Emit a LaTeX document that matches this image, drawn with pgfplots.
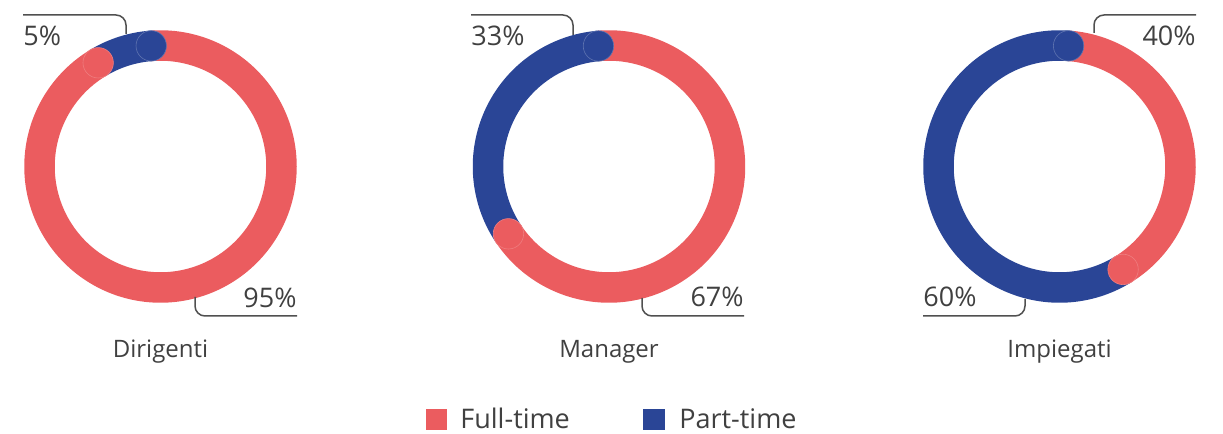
\documentclass[border=0pt]{standalone}
\usepackage{pgfplots}
\pgfplotsset{compat=1.18}
\usepackage{fontspec}
\setmainfont{Open Sans}
\definecolor{ftc}{HTML}{EB5C5F}
\definecolor{ptc}{HTML}{2A4596}
\definecolor{txt}{HTML}{404040}
\definecolor{ln}{HTML}{505050}
\pgfplotsset{donut/.style={hide axis, scale only axis, width=140pt, height=140pt,
  xmin=-140, xmax=140, ymin=-140, ymax=140, clip=false, anchor=center},
  arcft/.style={ftc, line width=15.25pt, samples=160, no markers, line cap=butt},
  arcpt/.style={ptc, line width=15.25pt, samples=160, no markers, line cap=butt},
  capft/.style={only marks, mark=*, mark size=7.6pt, mark options={fill=ftc, draw=ftc!80!white, line width=0.3pt}},
  capwpt/.style={only marks, mark=*, mark size=7.6pt, mark options={fill=ptc, draw=ptc!75!white, line width=0.3pt}}}
\begin{document}
\begin{tikzpicture}[x=0.5pt,y=0.5pt]
\useasboundingbox (0,0) rectangle (1223,434);
% Dirigenti: Full-time 95, Part-time 5 (cap angles)
\begin{axis}[donut, at={(160.5,267.5)}]
\addplot[arcft, domain=-239:94.4] ({121*cos(x)},{121*sin(x)});
\addplot[arcpt, domain=94.4:121] ({121*cos(x)},{121*sin(x)});
\addplot[capft, samples at={121}] ({121*cos(x)},{121*sin(x)});
\addplot[capwpt, samples at={94.4}] ({121*cos(x)},{121*sin(x)});
\end{axis}
% Manager: Full-time 67, Part-time 33
\begin{axis}[donut, at={(609,267.5)}]
\addplot[arcft, domain=-146.2:95] ({121*cos(x)},{121*sin(x)});
\addplot[arcpt, domain=95:213.8] ({121*cos(x)},{121*sin(x)});
\addplot[capft, samples at={213.8}] ({121*cos(x)},{121*sin(x)});
\addplot[capwpt, samples at={95}] ({121*cos(x)},{121*sin(x)});
\end{axis}
% Impiegati: Full-time 40, Part-time 60
\begin{axis}[donut, at={(1059.5,267.5)}]
\addplot[arcft, domain=-58.3:85.7] ({121*cos(x)},{121*sin(x)});
\addplot[arcpt, domain=85.7:301.7] ({121*cos(x)},{121*sin(x)});
\addplot[capft, samples at={-58.3}] ({121*cos(x)},{121*sin(x)});
\addplot[capwpt, samples at={85.7}] ({121*cos(x)},{121*sin(x)});
\end{axis}
\begin{scope}[shift={(0,434)}, yscale=-1]
% leader lines
\begin{scope}[ln, line width=0.75pt, rounded corners=5pt]
\draw (126,34) -- (126,15) -- (23,15);
\draw (195,297) -- (195,316) -- (297,316);
\draw (573,35) -- (573,15) -- (471,15);
\draw (642,298) -- (642,316) -- (744,316);
\draw (1094,33) -- (1094,15) -- (1196,15);
\draw (1025,299) -- (1025,316) -- (923,316);
\end{scope}
\begin{scope}[every node/.style={inner sep=0pt, text=txt, font=\fontsize{13.5}{16}\selectfont}]
\node[anchor=base west] at (23,46) {5\%};
\node[anchor=base east] at (297,308) {95\%};
\node[anchor=base west] at (471,46) {33\%};
\node[anchor=base east] at (744,307) {67\%};
\node[anchor=base east] at (1196,46) {40\%};
\node[anchor=base west] at (923,307) {60\%};
\end{scope}
\begin{scope}[every node/.style={inner sep=0pt, text=txt, font=\fontsize{12}{14}\selectfont}]
\node[anchor=base] at (160.5,358) {Dirigenti};
\node[anchor=base] at (609,358) {Manager};
\node[anchor=base] at (1059.5,358) {Impiegati};
\end{scope}
% legend
\fill[ftc] (426,409) rectangle (447,430);
\fill[ptc] (643,409) rectangle (665,430);
\begin{scope}[every node/.style={inner sep=0pt, text=txt, font=\fontsize{13.5}{16}\selectfont}]
\node[anchor=base west] at (460,429) {Full-time};
\node[anchor=base west] at (679,429) {Part-time};
\end{scope}
\end{scope}
\end{tikzpicture}
\end{document}
